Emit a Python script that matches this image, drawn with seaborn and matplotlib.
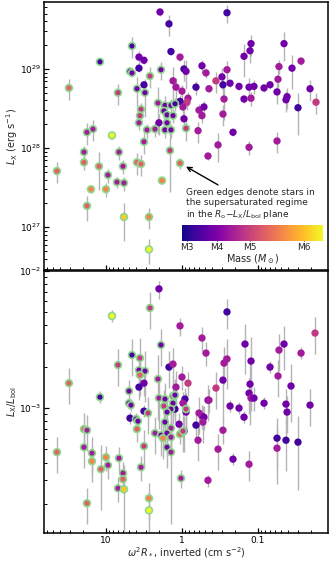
import numpy as np
import pandas as pd
import seaborn as sns
import matplotlib.pyplot as plt
from matplotlib import ticker
from matplotlib.colors import Normalize
from matplotlib.cm import ScalarMappable

# --- upper panel: L_X ---
top_log_w2r = [0.289, 0.658, 1.079, 0.566, 0.5, 0.566, 0.684, 0.658, 0.276, 0.421,
               0.5, 1.487, 0.842, 0.592, 0.487, 0.539, 0.316, 0.224, 0.145, 0.092,
               0.237, 0.197, 0.118, 0.553, 0.566, 0.303, 0.197, 0.461, 0.355, 0.224,
               0.145, -0.053, 0.921, 1.25, 1.171, 0.5, 0.158, 0.829, 0.776, 0.592,
               0.539, 0.026, 0.974, 1.092, 1.645, 1.289, 1.289, 1.197, 1.25, 1.0,
               0.855, 0.763, 0.763, 0.434, 0.434, 0.263, -0.592, 0.171, 0.145, 0.026,
               -0.026, -0.053, -0.263, -0.316, -0.592, -0.526, -0.447, -0.539, -0.632, -0.75,
               -0.816, -0.908, -0.895, -0.882, -0.947, -1.079, -1.158, -1.263, -1.276, -1.342,
               -1.447, -1.566, -1.684, -1.763, -1.25, -1.382, -1.368, -1.526, -0.816, -0.908,
               -0.553, -0.539, -0.355, -0.184, 0.118, 0.079, 0.0, -0.079, -0.066, 0.026,
               -0.013, -0.224, -0.289, -0.263, -0.026, -0.211, -0.671, -1.25, -0.474, -0.882,
               -0.342]
top_log_lx = [29.72, 29.29, 29.09, 29.15, 29.11, 29.01, 28.97, 28.95, 28.99, 28.91,
              28.80, 28.76, 28.70, 28.75, 28.70, 28.49, 28.57, 28.54, 28.54, 28.56,
              28.47, 28.42, 28.41, 28.41, 28.32, 28.32, 28.32, 28.23, 28.24, 28.23,
              28.23, 28.25, 28.16, 28.20, 28.24, 28.08, 27.97, 27.95, 27.77, 27.82,
              27.80, 27.81, 27.66, 27.77, 27.71, 27.95, 27.82, 27.48, 27.27, 27.48,
              27.57, 27.56, 27.13, 27.13, 26.72, 27.59, 29.71, 29.57, 29.22, 29.15,
              29.00, 28.97, 29.04, 28.95, 28.99, 28.90, 28.85, 28.80, 28.82, 28.78,
              29.16, 29.32, 29.23, 28.77, 28.78, 28.76, 28.80, 28.87, 29.03, 29.32,
              29.01, 29.10, 28.75, 28.58, 28.71, 28.65, 28.61, 28.51, 28.62, 28.63,
              28.62, 28.43, 28.75, 28.77, 28.85, 28.77, 28.72, 28.63, 28.58, 28.59,
              28.52, 28.48, 28.52, 28.41, 28.37, 28.22, 28.20, 28.09, 28.04, 28.01,
              27.90]
top_mass = [0.37, 0.41, 0.41, 0.37, 0.37, 0.41, 0.37, 0.37, 0.37, 0.28,
            0.41, 0.23, 0.28, 0.37, 0.37, 0.28, 0.32, 0.37, 0.37, 0.41,
            0.37, 0.37, 0.37, 0.28, 0.32, 0.37, 0.37, 0.32, 0.32, 0.37,
            0.37, 0.28, 0.08, 0.32, 0.32, 0.32, 0.28, 0.32, 0.32, 0.23,
            0.23, 0.23, 0.32, 0.23, 0.23, 0.32, 0.23, 0.19, 0.23, 0.19,
            0.32, 0.32, 0.12, 0.19, 0.08, 0.19, 0.41, 0.41, 0.41, 0.32,
            0.41, 0.37, 0.37, 0.32, 0.32, 0.37, 0.28, 0.41, 0.37, 0.37,
            0.37, 0.37, 0.37, 0.37, 0.37, 0.37, 0.37, 0.32, 0.32, 0.37,
            0.37, 0.32, 0.37, 0.28, 0.37, 0.37, 0.37, 0.41, 0.37, 0.32,
            0.32, 0.32, 0.32, 0.41, 0.32, 0.32, 0.32, 0.32, 0.28, 0.41,
            0.32, 0.32, 0.37, 0.32, 0.37, 0.32, 0.37, 0.32, 0.32, 0.32,
            0.32]
top_supersat = [0, 1, 1, 0, 0, 0, 1, 1, 1, 1,
                0, 1, 1, 1, 1, 1, 1, 1, 1, 1,
                1, 1, 1, 1, 1, 0, 1, 1, 1, 1,
                1, 1, 1, 1, 1, 1, 1, 1, 1, 1,
                1, 1, 1, 1, 1, 1, 1, 1, 1, 1,
                1, 1, 1, 1, 1, 1, 0, 0, 0, 0,
                0, 0, 0, 0, 0, 0, 0, 0, 0, 0,
                0, 0, 0, 0, 0, 0, 0, 0, 0, 0,
                0, 0, 0, 0, 0, 0, 0, 0, 0, 0,
                0, 0, 0, 0, 0, 0, 0, 0, 0, 0,
                0, 0, 0, 0, 0, 0, 0, 0, 0, 0,
                0]
top_frac_err = [0.1, 0.3, 0.1, 0.2, 0.1, 0.1, 0.1, 0.1, 0.25, 0.3,
                0.1, 0.3, 0.3, 0.4, 0.5, 0.2, 0.6, 0.3, 0.2, 0.2,
                0.2, 0.2, 0.2, 0.2, 0.2, 0.3, 0.2, 0.2, 0.2, 0.2,
                0.2, 0.3, 0.1, 0.3, 0.3, 0.3, 0.7, 0.2, 0.2, 0.3,
                0.3, 0.15, 0.2, 0.5, 0.3, 0.2, 0.2, 0.1, 0.35, 0.2,
                0.15, 0.2, 0.5, 0.3, 0.35, 0.1, 0.25, 0.3, 0.1, 0.1,
                0.3, 0.4, 0.2, 0.15, 0.3, 0.3, 0.3, 0.3, 0.1, 0.1,
                0.45, 0.3, 0.3, 0.3, 0.2, 0.1, 0.1, 0.3, 0.2, 0.4,
                0.45, 0.1, 0.3, 0.3, 0.3, 0.3, 0.3, 0.55, 0.1, 0.2,
                0.45, 0.3, 0.1, 0.2, 0.5, 0.3, 0.2, 0.2, 0.2, 0.2,
                0.2, 0.2, 0.2, 0.2, 0.3, 0.3, 0.1, 0.3, 0.4, 0.2,
                0.1]

# --- lower panel: L_X / L_bol ---
bot_log_w2r = [0.303, 0.421, 0.921, 0.276, 0.658, 0.553, 0.842, 0.566, 0.487, 0.553,
               0.316, 0.5, 0.566, 1.487, 0.697, 1.079, 0.697, 0.671, 0.5, 0.447,
               0.684, 0.605, 0.579, 0.592, 0.303, 0.224, 0.118, 0.092, 0.237, 0.118,
               0.145, 0.197, -0.053, -0.053, 0.092, -0.039, -0.013, 0.224, 0.145, 0.039,
               -0.224, -0.263, -0.289, -0.276, -0.342, -0.184, -0.026, 0.355, 0.276, 0.25,
               0.197, 0.145, 0.026, -0.013, -0.211, 0.197, 0.145, 0.5, 1.0, 0.829,
               1.066, 0.974, 0.539, 0.776, 0.776, 0.013, 0.842, 0.763, -0.342, 0.171,
               0.118, 0.0, -0.079, 0.079, -0.592, 0.026, -0.263, -0.316, -0.592, -0.553,
               -0.829, -0.908, -1.342, -1.276, -1.566, -1.75, -1.158, -1.263, -1.434, -0.539,
               -0.895, -0.882, -0.908, -0.947, -0.447, -0.355, -0.632, -0.75, -1.079, -1.368,
               -1.382, -1.684, -0.816, -0.539, -1.25, -1.368, -1.526, -1.25, -0.474, -0.671,
               -0.882, 1.645, 1.289, 1.25, 1.289, 1.184, 1.184, 1.25, 0.434, 0.434]
bot_log_ratio = [-2.131, -2.270, -2.328, -2.540, -2.613, -2.635, -2.686, -2.723, -2.730, -2.759,
                 -2.788, -2.818, -2.847, -2.818, -2.876, -2.920, -2.964, -2.978, -3.022, -3.036,
                 -3.073, -3.080, -3.095, -3.153, -2.927, -2.934, -2.912, -2.905, -2.985, -2.964,
                 -3.007, -3.029, -3.007, -3.029, -3.007, -2.934, -2.964, -3.102, -3.146, -3.117,
                 -3.036, -3.058, -3.066, -3.102, -2.942, -3.124, -3.168, -3.182, -3.197, -3.219,
                 -3.182, -3.212, -3.190, -3.168, -3.234, -3.285, -3.321, -3.277, -3.358, -3.365,
                 -3.445, -3.416, -3.431, -3.474, -3.518, -3.511, -3.584, -3.591, -3.526, -2.701,
                 -2.679, -2.774, -2.818, -2.847, -2.299, -2.401, -2.489, -2.599, -2.642, -2.672,
                 -2.533, -2.657, -2.533, -2.577, -2.599, -2.453, -2.701, -2.766, -2.839, -2.796,
                 -2.825, -2.891, -2.927, -2.927, -2.854, -2.942, -2.985, -3.000, -2.964, -2.971,
                 -3.029, -2.978, -3.066, -3.161, -3.219, -3.234, -3.248, -3.292, -3.299, -3.372,
                 -3.409, -3.321, -3.153, -3.161, -3.285, -3.328, -3.387, -3.693, -3.657, -3.745]
bot_mass = [0.37, 0.28, 0.08, 0.37, 0.41, 0.28, 0.28, 0.37, 0.37, 0.23,
            0.32, 0.37, 0.41, 0.23, 0.37, 0.41, 0.37, 0.37, 0.41, 0.28,
            0.41, 0.37, 0.37, 0.23, 0.32, 0.37, 0.32, 0.37, 0.28, 0.37,
            0.37, 0.37, 0.28, 0.37, 0.41, 0.41, 0.32, 0.37, 0.32, 0.37,
            0.32, 0.32, 0.37, 0.32, 0.37, 0.41, 0.41, 0.32, 0.37, 0.19,
            0.37, 0.32, 0.23, 0.28, 0.32, 0.37, 0.32, 0.28, 0.19, 0.32,
            0.23, 0.32, 0.32, 0.32, 0.23, 0.32, 0.32, 0.12, 0.32, 0.41,
            0.32, 0.32, 0.28, 0.32, 0.41, 0.32, 0.32, 0.32, 0.32, 0.32,
            0.37, 0.37, 0.37, 0.32, 0.32, 0.28, 0.37, 0.32, 0.37, 0.37,
            0.37, 0.37, 0.32, 0.37, 0.28, 0.32, 0.37, 0.37, 0.37, 0.37,
            0.37, 0.37, 0.37, 0.32, 0.41, 0.41, 0.41, 0.32, 0.32, 0.37,
            0.32, 0.23, 0.23, 0.32, 0.32, 0.32, 0.19, 0.23, 0.19, 0.08]
bot_supersat = [0, 1, 1, 1, 1, 1, 1, 1, 1, 1,
                1, 0, 0, 1, 1, 1, 1, 1, 0, 1,
                0, 1, 1, 1, 1, 1, 1, 1, 1, 1,
                1, 1, 1, 0, 0, 0, 0, 1, 1, 0,
                0, 0, 0, 0, 0, 0, 0, 1, 1, 1,
                1, 1, 1, 1, 0, 1, 1, 1, 1, 1,
                1, 1, 1, 1, 1, 1, 1, 1, 0, 0,
                0, 0, 0, 0, 0, 0, 0, 0, 0, 0,
                0, 0, 0, 0, 0, 0, 0, 0, 0, 0,
                0, 0, 0, 0, 0, 0, 0, 0, 0, 0,
                0, 0, 0, 0, 0, 0, 0, 0, 0, 0,
                0, 1, 1, 1, 1, 1, 1, 1, 1, 1]
bot_frac_err = [0.15, 0.3, 0.1, 0.3, 0.3, 0.4, 0.3, 0.3, 0.4, 0.3,
                0.5, 0.2, 0.2, 0.3, 0.2, 0.1, 0.1, 0.1, 0.1, 0.3,
                0.1, 0.1, 0.1, 0.2, 0.4, 0.3, 0.3, 0.3, 0.3, 0.3,
                0.3, 0.3, 0.3, 0.3, 0.2, 0.2, 0.2, 0.3, 0.3, 0.2,
                0.3, 0.2, 0.2, 0.3, 0.3, 0.2, 0.3, 0.3, 0.3, 0.3,
                0.3, 0.3, 0.15, 0.3, 0.3, 0.3, 0.7, 0.3, 0.2, 0.2,
                0.5, 0.2, 0.2, 0.2, 0.2, 0.15, 0.2, 0.5, 0.1, 0.3,
                0.3, 0.2, 0.2, 0.3, 0.25, 0.15, 0.2, 0.2, 0.4, 0.3,
                0.4, 0.5, 0.35, 0.3, 0.1, 0.3, 0.1, 0.3, 0.45, 0.5,
                0.5, 0.3, 0.2, 0.2, 0.3, 0.2, 0.1, 0.1, 0.1, 0.3,
                0.3, 0.3, 0.1, 0.2, 0.4, 0.4, 0.55, 0.45, 0.3, 0.1,
                0.25, 0.3, 0.3, 0.3, 0.3, 0.3, 0.3, 0.3, 0.3, 0.35]

# colour bar: spectral types placed at their masses
spt_labels = ["M3", "M4", "M5", "M6"]
spt_masses = [0.437, 0.358, 0.272, 0.13]
mass_range = (0.08, 0.45)

EDGE_GREEN = "#8fd68f"
ERR_GREY = "#b4b4b4"


def make_frame(log_x, log_y, mass, ss, ferr):
    df = pd.DataFrame({"x": 10 ** np.array(log_x), "y": 10 ** np.array(log_y),
                       "mass": mass, "ss": np.array(ss, dtype=bool), "f": ferr})
    df["yerr"] = df["f"] * df["y"]
    return df


def draw_panel(ax, df):
    ax.errorbar(df["x"], df["y"], yerr=df["yerr"], fmt="none", ecolor=ERR_GREY,
                elinewidth=1.0, capsize=0, zorder=1)
    sns.scatterplot(data=df[df["ss"]], x="x", y="y", hue="mass", palette="plasma_r",
                    hue_norm=mass_range, s=24, edgecolor=EDGE_GREEN, linewidth=1.2,
                    legend=False, ax=ax, zorder=3)
    sns.scatterplot(data=df[~df["ss"]], x="x", y="y", hue="mass", palette="plasma_r",
                    hue_norm=mass_range, s=28, edgecolor="none", linewidth=0,
                    legend=False, ax=ax, zorder=2)
    ax.set_xlabel("")
    ax.set_ylabel("")


sns.set_style("ticks")
plt.rcParams["font.family"] = ["DejaVu Sans"]

top_df = make_frame(top_log_w2r, top_log_lx, top_mass, top_supersat, top_frac_err)
bot_df = make_frame(bot_log_w2r, bot_log_ratio, bot_mass, bot_supersat, bot_frac_err)

fig = plt.figure(figsize=(3.3, 5.62), dpi=100)
ax1 = fig.add_axes([0.133, 0.5196, 0.861, 0.476])
ax2 = fig.add_axes([0.133, 0.0516, 0.861, 0.4664], sharex=ax1)

draw_panel(ax1, top_df)
draw_panel(ax2, bot_df)

for ax in (ax1, ax2):
    ax.set_xscale("log")
    ax.set_yscale("log")
    for sp in ax.spines.values():
        sp.set_linewidth(1.1)
        sp.set_color("black")
    ax.tick_params(which="both", direction="in", top=False, right=False,
                   labelsize=6.5, colors="black", pad=2)
    ax.tick_params(which="major", length=3.5, width=0.9)
    ax.tick_params(which="minor", length=2, width=0.7)
    ax.yaxis.set_minor_formatter(ticker.NullFormatter())

ax1.set_xlim(65.5, 0.012)
ax1.set_ylim(10 ** 26.46, 10 ** 29.84)
ax2.set_ylim(10 ** -3.91, 10 ** -2)
ax2.set_xticks([10, 1, 0.1], labels=["10", "1", "0.1"])
ax2.xaxis.set_minor_formatter(ticker.NullFormatter())
ax1.tick_params(labelbottom=False)

ax1.set_ylabel(r"$L_{\rm X}$ (erg s$^{-1}$)", fontsize=7, labelpad=0)
ax2.set_ylabel(r"$L_{\rm X}/L_{\rm bol}$", fontsize=7, labelpad=0)
ax2.set_xlabel(r"$\omega^2 R_*$, inverted (cm s$^{-2}$)", fontsize=7, labelpad=0)

# note and arrow to one supersaturated star
ax1.text(0.5, 0.305, "Green edges denote stars in\nthe supersaturated regime\n"
         r"in the $R_{\rm o}$$-$$L_{\rm X}/L_{\rm bol}$ plane",
         transform=ax1.transAxes, fontsize=6.5, va="top", ha="left", linespacing=1.1)
arrow_star = top_df.iloc[41]
ax1.annotate("", xy=(arrow_star["x"], arrow_star["y"]), xycoords="data",
             xytext=(0.613, 0.318), textcoords="axes fraction",
             arrowprops=dict(arrowstyle="->", color="black", lw=1.0,
                             shrinkA=0, shrinkB=5, mutation_scale=8))

# colour bar inside the upper panel
cax = fig.add_axes([0.5515, 0.5712, 0.427, 0.0285])
sm = ScalarMappable(norm=Normalize(*mass_range), cmap="plasma_r")
cb = fig.colorbar(sm, cax=cax, orientation="horizontal")
cax.invert_xaxis()
cb.set_ticks(spt_masses, labels=spt_labels)
cb.outline.set_visible(False)
cax.tick_params(direction="in", length=3, width=0.8, color="black", labelsize=6.5, pad=1.5)
cb.set_label(r"Mass ($M_\odot$)", fontsize=7, labelpad=0)

fig.savefig("out.png", dpi=100)
